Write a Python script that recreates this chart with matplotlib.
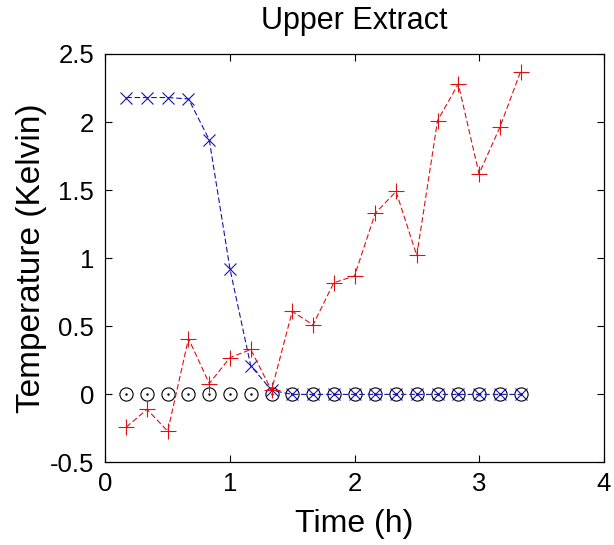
import matplotlib
matplotlib.use("Agg")
import matplotlib.pyplot as plt
import numpy as np

time_h = [k / 6 for k in range(1, 21)]
zero_ref = [0.0] * 20
blue_series = [2.18, 2.18, 2.18, 2.17, 1.87, 0.92, 0.21, 0.03,
               0, 0, 0, 0, 0, 0, 0, 0, 0, 0, 0, 0]
red_series = [-0.24, -0.11, -0.27, 0.41, 0.08, 0.27, 0.33, 0.03,
              0.61, 0.51, 0.82, 0.87, 1.33, 1.49, 1.02, 2.01,
              2.28, 1.62, 1.96, 2.37]
x_ticks = [0, 1, 2, 3, 4]
y_ticks = [-0.5, 0, 0.5, 1, 1.5, 2, 2.5]
y_tick_labels = ['-0.5', '0', '0.5', '1', '1.5', '2', '2.5']

plt.rcParams['font.family'] = ['Liberation Sans', 'DejaVu Sans']
fig = plt.figure(figsize=(6.14, 5.45), dpi=100)
ax = fig.add_axes([0.1718, 0.1514, 0.983 - 0.1718, 0.901 - 0.1514])

ax.plot(time_h, zero_ref, linestyle='none', marker='o', markersize=9.5,
        markerfacecolor='none', markeredgecolor='black', markeredgewidth=0.8)
ax.plot(time_h, zero_ref, linestyle='none', marker='.', markersize=1.5,
        color='black')
ax.plot(time_h, blue_series, linestyle='--', dashes=(5, 2.5), color='#1414b4',
        linewidth=0.8, marker='x', markersize=8.5, markeredgewidth=0.8)
ax.plot(time_h, red_series, linestyle='--', dashes=(5, 2.5), color='#e01010',
        linewidth=0.8, marker='+', markersize=12, markeredgewidth=0.8)

ax.set_xlim(0, 4)
ax.set_ylim(-0.5, 2.5)
ax.set_xticks(x_ticks)
ax.set_yticks(y_ticks)
ax.set_yticklabels(y_tick_labels)
ax.tick_params(direction='in', top=True, right=True, labelsize=18.5,
               length=5, width=0.8)
ax.tick_params(axis='x', pad=7)
ax.tick_params(axis='y', pad=8)
for s in ax.spines.values():
    s.set_linewidth(0.9)

ax.set_title('Upper Extract', fontsize=22, pad=18)
ax.set_xlabel('Time (h)', fontsize=23, va='baseline')
ax.xaxis.set_label_coords(0.5, -0.171)
ax.set_ylabel('Temperature (Kelvin)', fontsize=24, labelpad=2)

fig.savefig('out.png', dpi=100)
